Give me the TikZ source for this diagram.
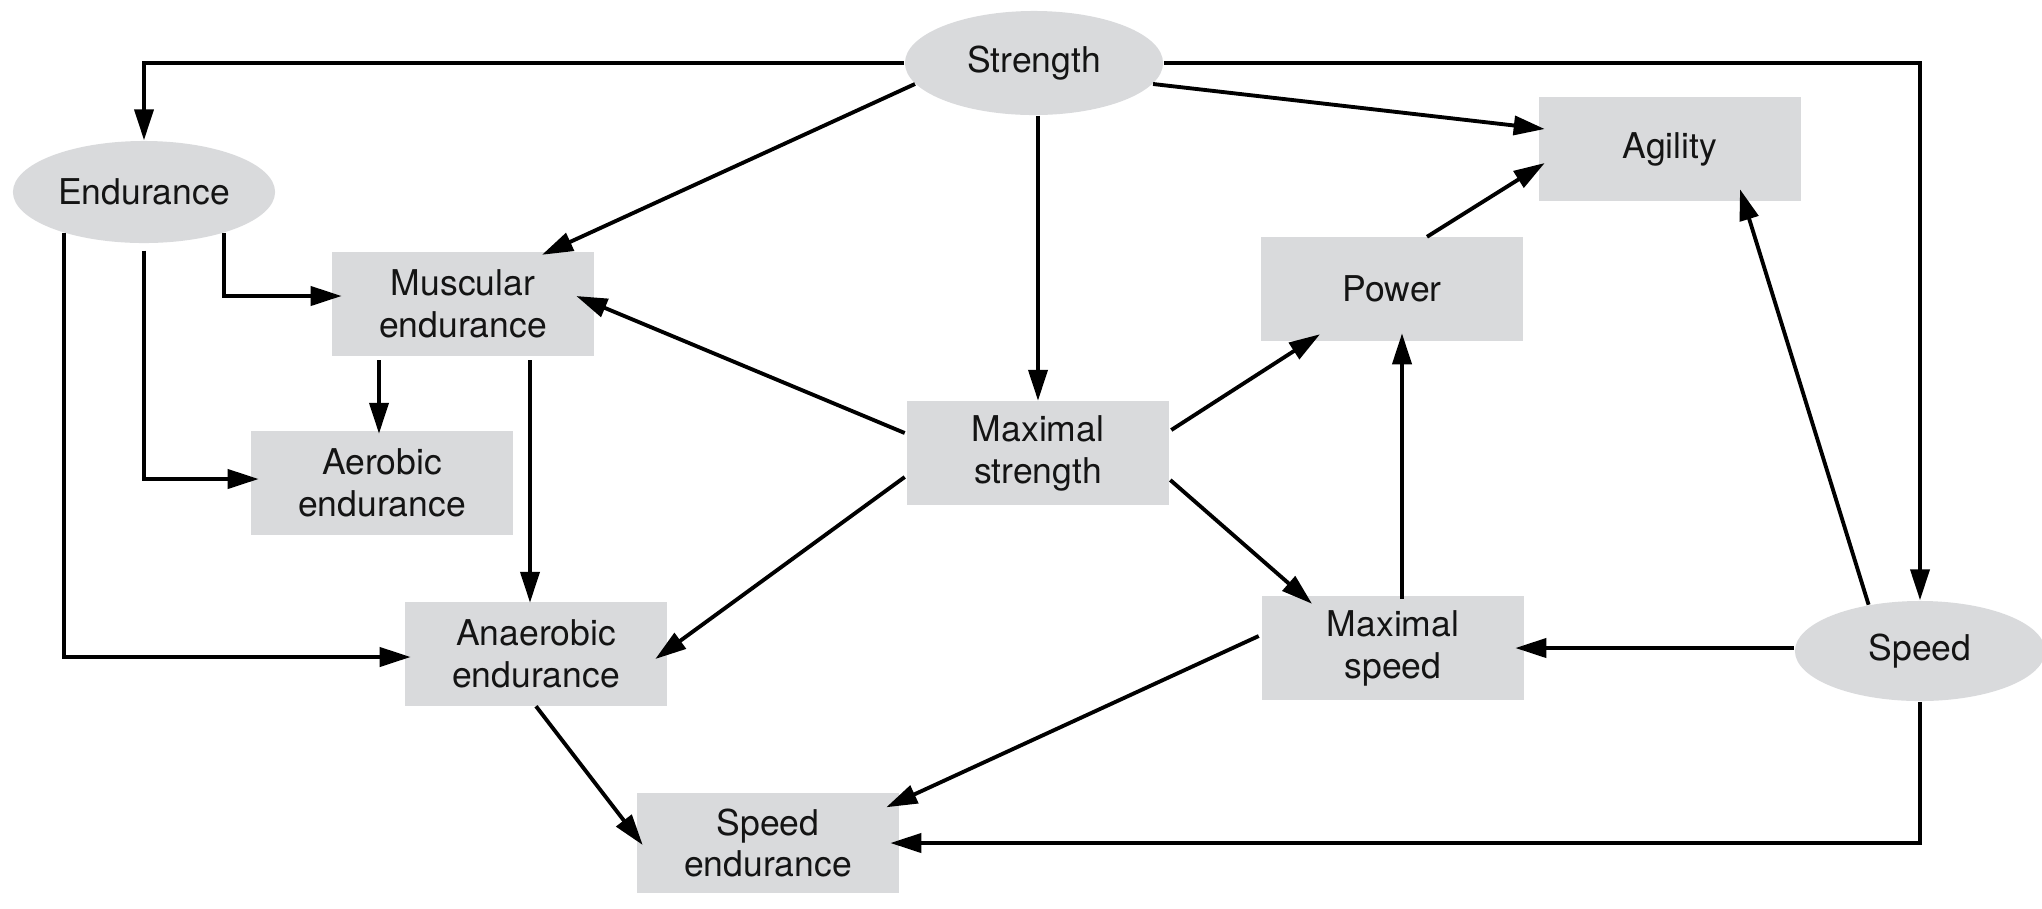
\documentclass[tikz,border=0pt]{standalone}
\usepackage{fontspec}
\setmainfont{TeX Gyre Heros}
\usetikzlibrary{shapes.geometric,arrows.meta,calc}
\definecolor{boxgray}{RGB}{217,218,220}
\begin{document}
\begin{tikzpicture}[x=0.01cm,y=-0.01cm,
  font=\fontsize{10.1}{11.9}\selectfont,
  base/.style={fill=boxgray, inner sep=0pt, align=center, text=black!92},
  quality/.style={base, rectangle, minimum width=2.61cm, minimum height=1.03cm},
  ability/.style={base, ellipse},
  link/.style={line width=1.1pt, -{Triangle[length=3.1mm,width=1.9mm]}},
]
\useasboundingbox (0,0) rectangle (2042,908);

% basic abilities
\node[ability, minimum width=2.58cm, minimum height=1.04cm] (strength)  at (1034,63)  {Strength};
\node[ability, minimum width=2.62cm, minimum height=1.02cm] (endurance) at (144,192)  {Endurance};
\node[ability, minimum width=2.50cm, minimum height=1.00cm] (speed)     at (1920,651) {Speed};

% derived qualities
\node[quality] (agility)   at (1670,149) {Agility};
\node[quality] (muscular)  at (463,304)  {Muscular\\endurance};
\node[quality] (power)     at (1392,289) {Power};
\node[quality] (aerobic)   at (382,483)  {Aerobic\\endurance};
\node[quality] (maxstr)    at (1038,453) {Maximal\\strength};
\node[quality] (anaerobic) at (536,654)  {Anaerobic\\endurance};
\node[quality] (maxspeed)  at (1393,648) {Maximal\\speed};
\node[quality, minimum height=1.00cm] (speedend) at (768,843) {Speed\\endurance};

% from strength
\draw[link] (strength.west) -| (endurance.north);
\draw[link] (strength.east) -| (speed.north);
\draw[link] (strength.190) -- ($(muscular.north)+(79,3)$);
\draw[link] (strength.south -| maxstr.north) -- (maxstr.north);
\draw[link] (strength.-10) -- ($(agility.west)+(6,-20)$);

% from endurance
\draw[link] (endurance.-27) |- ($(muscular.west)+(10,-8)$);
\draw[link] ($(endurance.south)+(0,7)$) |- ($(aerobic.west)+(8,-4)$);
\draw[link] (endurance.207) |- ($(anaerobic.west)+(6,3)$);

% from muscular endurance
\draw[link] ($(muscular.south -| aerobic.north)+(-3,4)$) -- ($(aerobic.north)+(-3,3)$);
\draw[link] ($(muscular.south -| anaerobic.north)+(-6,4)$) -- ($(anaerobic.north)+(-6,1)$);

% from maximal strength
\draw[link] ($(maxstr.west)+(-2,-20)$) -- ($(muscular.east)+(-18,-8)$);
\draw[link] ($(maxstr.west)+(-2,24)$) -- ($(anaerobic.east)+(-12,5)$);
\draw[link] ($(maxstr.east)+(2,-23)$) -- ($(power.south)+(-72,-7)$);
\draw[link] ($(maxstr.east)+(1,27)$) -- ($(maxspeed.north)+(-81,8)$);

% power, maximal speed, speed
\draw[link] ($(maxspeed.north)+(9,3)$) -- ($(power.south)+(10,-8)$);
\draw[link] ($(power.north)+(35,0)$) -- ($(agility.west)+(6,14)$);
\draw[link] (speed.138) -- ($(agility.south)+(70,-12)$);
\draw[link] (speed.west |- maxspeed.east) -- ($(maxspeed.east)+(-9,0)$);
\draw[link] (speed.south) |- ($(speedend.east)+(-9,0)$);
\draw[link] ($(maxspeed.west)+(-3,-12)$) -- ($(speedend.north east)+(-13,15)$);
\draw[link] (anaerobic.south) -- ($(speedend.west)+(6,2)$);
\end{tikzpicture}
\end{document}
